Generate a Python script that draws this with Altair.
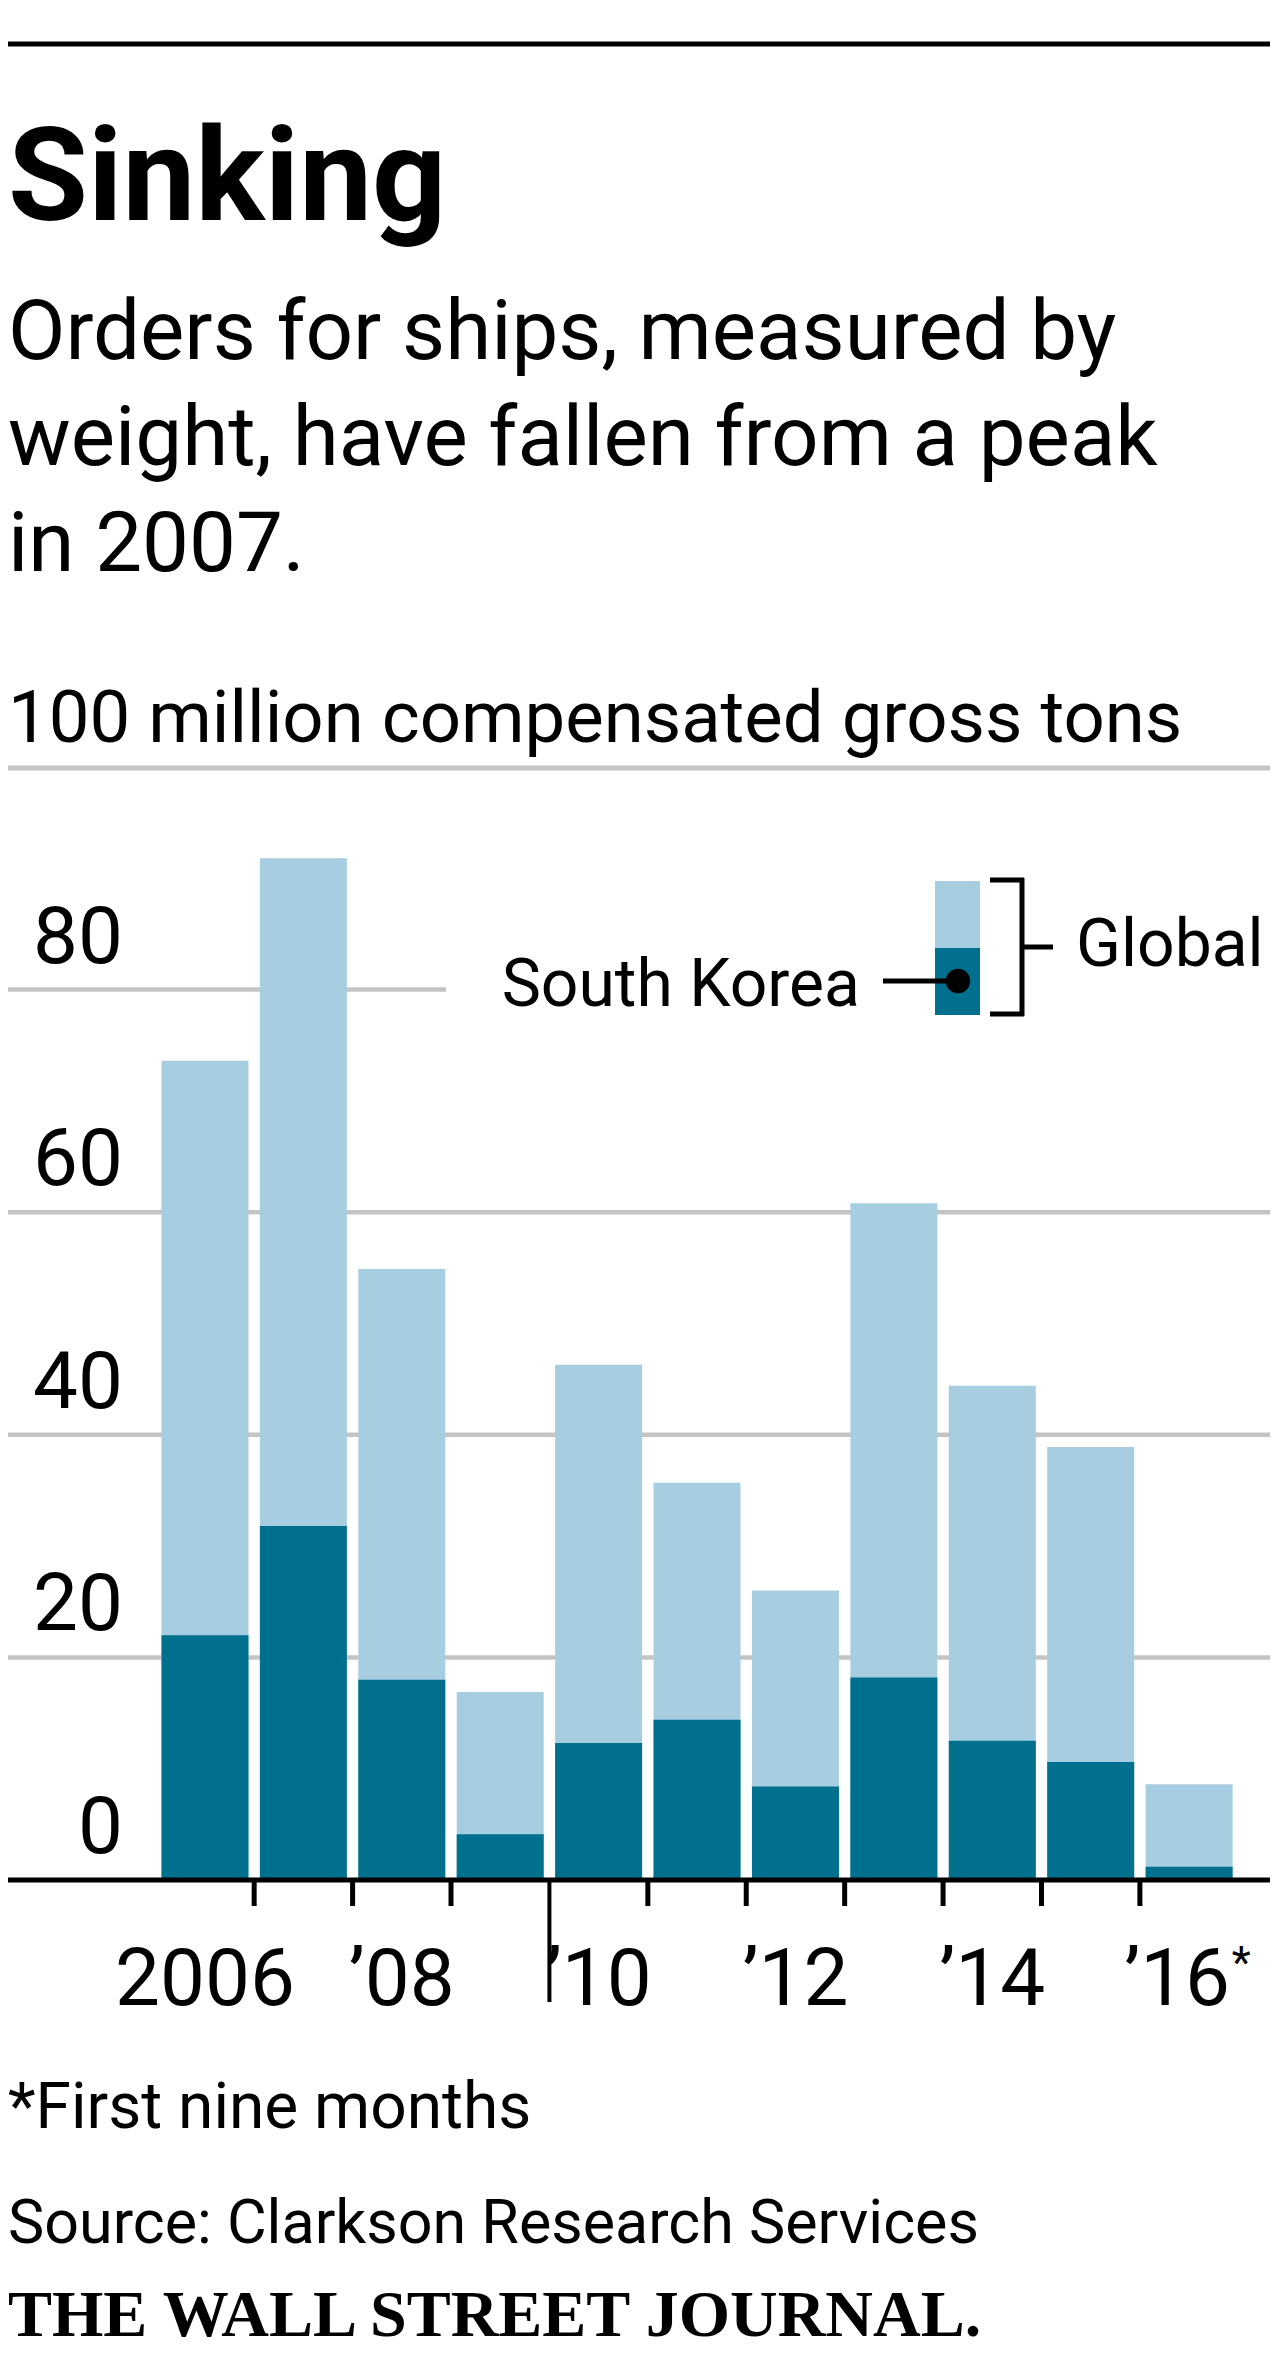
import altair as alt
import pandas as pd

# ---------------- data ----------------
years = [2006, 2007, 2008, 2009, 2010, 2011, 2012, 2013, 2014, 2015, 2016]
global_orders = [73.6, 91.8, 54.9, 16.9, 46.3, 35.7, 26.0, 60.8, 44.4, 38.9, 8.6]
korea_orders = [22.0, 31.8, 18.0, 4.1, 12.3, 14.4, 8.4, 18.2, 12.5, 10.6, 1.2]

y_ticks = [0, 20, 40, 60, 80]
x_label_years = [2006, 2008, 2010, 2012, 2014]
x_label_text = ["2006", "\u201908", "\u201910", "\u201912", "\u201914"]
last_label_year = [2016]
last_label_text = ["\u201916"]
short_tick_years = [2006, 2007, 2008, 2010, 2011, 2012, 2013, 2014, 2015]
decade_tick_years = [2009]

title_text = "Sinking"
subtitle_lines = [
    "Orders for ships, measured by",
    "weight, have fallen from a peak",
    "in 2007.",
]
unit_text = "100 million compensated gross tons"
legend_korea = "South Korea"
legend_global = "Global"
footnote_text = "*First nine months"
source_text = "Source: Clarkson Research Services"
credit_text = "THE WALL STREET JOURNAL."

LIGHT = "#a6cee0"
DARK = "#00708f"
GRID = "#c4c4c4"
FONT = "Roboto"

# ---------------- layout ----------------
W = 1262
H = 1024
xs = alt.Scale(domain=[2004.0494, 2016.7712], nice=False, zero=False)
ys = alt.Scale(domain=[0, 92], nice=False, zero=False)

bars_df = pd.DataFrame({"year": years, "global": global_orders, "korea": korea_orders})
ytick_df = pd.DataFrame({"v": y_ticks, "label": [str(v) for v in y_ticks]})
grid_df = pd.DataFrame({"v": y_ticks[1:-1]})
grid_top_df = pd.DataFrame({"v": y_ticks[-1:]})
zero_df = pd.DataFrame({"v": y_ticks[:1]})
xlab_df = pd.DataFrame({"year": x_label_years, "label": x_label_text})
xlast_df = pd.DataFrame({"year": last_label_year, "label": last_label_text})
stick_df = pd.DataFrame({"year": short_tick_years})
ltick_df = pd.DataFrame({"year": decade_tick_years})
one = pd.DataFrame({"a": [0]})


def txt(s, x, y, size, weight="normal", font=FONT, align="left"):
    return alt.Chart(one).mark_text(
        align=align, baseline="alphabetic", font=font, fontSize=size,
        fontWeight=weight, color="#000000"
    ).encode(x=alt.value(x), y=alt.value(y), text=alt.value(s))


def hrule(x1, x2, y, color="#000000", width=5):
    return alt.Chart(one).mark_rule(color=color, strokeWidth=width).encode(
        x=alt.value(x1), x2=alt.value(x2), y=alt.value(y))


def vrule(x, y1, y2, color="#000000", width=5):
    return alt.Chart(one).mark_rule(color=color, strokeWidth=width).encode(
        x=alt.value(x), y=alt.value(y1), y2=alt.value(y2))


layers = []

# header
layers.append(hrule(0, W, -812, width=5))
layers.append(txt(title_text, 0, -636, 130, weight="bold"))
for i, line in enumerate(subtitle_lines):
    layers.append(txt(line, 0, -497 + 106 * i, 83.5))
layers.append(txt(unit_text, 0, -114, 72.5))
layers.append(hrule(0, W, -88, color=GRID, width=5))

# gridlines
layers.append(alt.Chart(grid_df).mark_rule(color=GRID, strokeWidth=4.5).encode(
    y=alt.Y("v:Q", scale=ys, axis=None), x=alt.value(0), x2=alt.value(W)))
layers.append(alt.Chart(grid_top_df).mark_rule(color=GRID, strokeWidth=4.5).encode(
    y=alt.Y("v:Q", scale=ys, axis=None), x=alt.value(0), x2=alt.value(438)))

# y labels
layers.append(alt.Chart(ytick_df).mark_text(
    align="right", baseline="alphabetic", font=FONT, fontSize=80, dy=-27, color="#000000"
).encode(y=alt.Y("v:Q", scale=ys, axis=None), x=alt.value(115), text="label:N"))

# bars
layers.append(alt.Chart(bars_df).mark_bar(color=LIGHT, size=87).encode(
    x=alt.X("year:Q", scale=xs, axis=None),
    y=alt.Y("global:Q", scale=ys, axis=None)))
layers.append(alt.Chart(bars_df).mark_bar(color=DARK, size=87).encode(
    x=alt.X("year:Q", scale=xs, axis=None),
    y=alt.Y("korea:Q", scale=ys, axis=None)))

# x axis baseline and ticks
layers.append(alt.Chart(zero_df).mark_rule(color="#000000", strokeWidth=5).encode(
    y=alt.Y("v:Q", scale=ys, axis=None), x=alt.value(0), x2=alt.value(W)))
layers.append(alt.Chart(stick_df).transform_calculate(b="datum.year + 0.5").mark_rule(
    color="#000000", strokeWidth=5).encode(
    x=alt.X("b:Q", scale=xs, axis=None), y=alt.value(H), y2=alt.value(H + 26)))
layers.append(alt.Chart(ltick_df).transform_calculate(b="datum.year + 0.5").mark_rule(
    color="#000000", strokeWidth=4).encode(
    x=alt.X("b:Q", scale=xs, axis=None), y=alt.value(H), y2=alt.value(H + 122)))

# x labels
layers.append(alt.Chart(xlab_df).mark_text(
    align="center", baseline="alphabetic", font=FONT, fontSize=80, color="#000000"
).encode(x=alt.X("year:Q", scale=xs, axis=None), y=alt.value(H + 125), text="label:N"))
layers.append(alt.Chart(xlast_df).mark_text(
    align="center", baseline="alphabetic", font=FONT, fontSize=80, dx=-12, color="#000000"
).encode(x=alt.X("year:Q", scale=xs, axis=None), y=alt.value(H + 125), text="label:N"))
layers.append(alt.Chart(xlast_df).mark_text(
    align="center", baseline="alphabetic", font=FONT, fontSize=44, dx=52, color="#000000"
).encode(x=alt.X("year:Q", scale=xs, axis=None), y=alt.value(H + 98), text=alt.value("*")))

# legend
layers.append(alt.Chart(one).mark_rect(color=LIGHT).encode(
    x=alt.value(927), x2=alt.value(972), y=alt.value(25), y2=alt.value(92)))
layers.append(alt.Chart(one).mark_rect(color=DARK).encode(
    x=alt.value(927), x2=alt.value(972), y=alt.value(92), y2=alt.value(159)))
layers.append(vrule(1014, 22, 160))
layers.append(hrule(982, 1016, 24))
layers.append(hrule(982, 1016, 158))
layers.append(hrule(1014, 1045, 91))
layers.append(hrule(875, 950, 125))
layers.append(alt.Chart(one).mark_circle(color="#000000", opacity=1, size=600).encode(
    x=alt.value(950), y=alt.value(125)))
layers.append(txt(legend_global, 1068, 110, 66))
layers.append(txt(legend_korea, 852, 150, 66, align="right"))

# footer
layers.append(txt(footnote_text, 0, 1272, 64))
layers.append(txt(source_text, 0, 1387, 61))
layers.append(txt(credit_text, 0, 1480, 66, weight="bold", font="Liberation Serif"))

chart = alt.layer(*layers).properties(
    width=W,
    height=H,
    autosize=alt.AutoSizeParams(type="none"),
    padding={"left": 0, "top": 848, "right": 0, "bottom": 476},
).configure_view(strokeWidth=0)

chart.save("out.html", embed_options={"renderer": "svg", "actions": False})
